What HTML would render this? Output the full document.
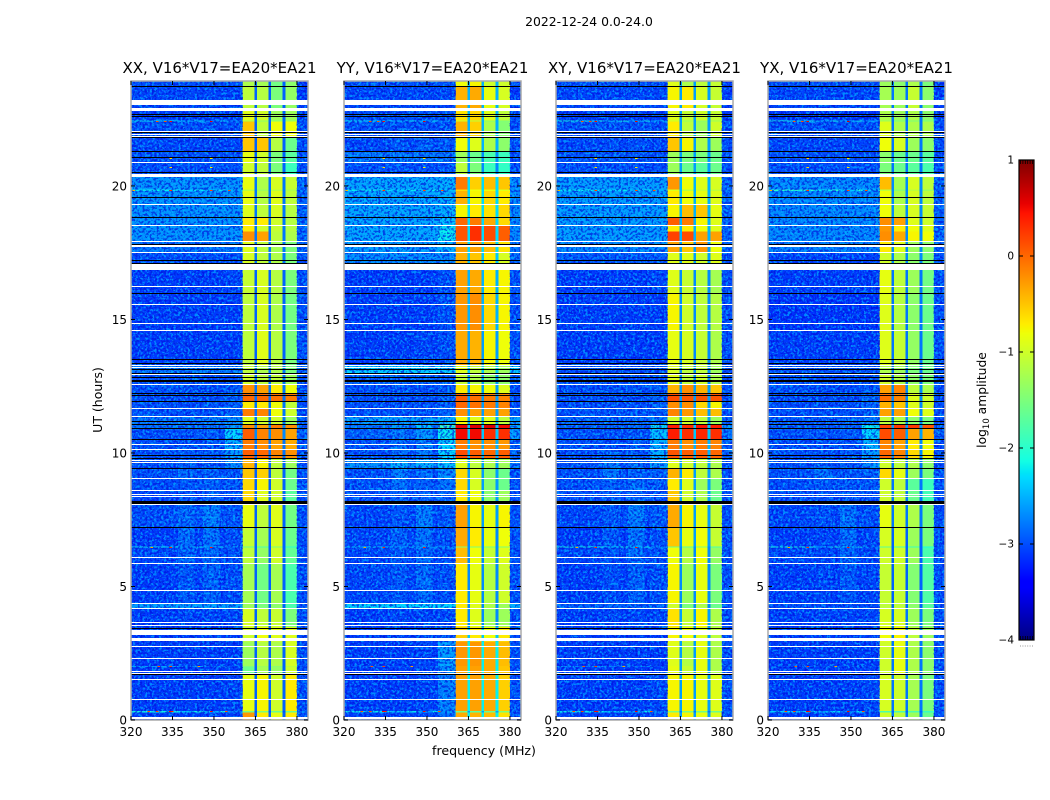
<!DOCTYPE html>
<html>
<head>
<meta charset="utf-8">
<title>Spectrogram 2022-12-24</title>
<style>
html,body{margin:0;padding:0;background:#fff;width:1050px;height:800px;overflow:hidden}
svg{display:block}
text{font-family:"DejaVu Sans","Liberation Sans",sans-serif;fill:#000}
</style>
</head>
<body>
<svg id="chart" xmlns="http://www.w3.org/2000/svg" width="1050" height="800" viewBox="0 0 1050 800">
<defs>
<filter id="grainLight" x="0" y="0" width="100%" height="100%" color-interpolation-filters="sRGB">
<feTurbulence type="fractalNoise" baseFrequency="0.42" numOctaves="2" seed="3"/>
<feColorMatrix type="matrix" values="0 0 0 0 0  0 0 0 0 0.72  0 0 0 0 1  7 0 0 0 -3.4"/>
</filter>
<filter id="grainDark" x="0" y="0" width="100%" height="100%" color-interpolation-filters="sRGB">
<feTurbulence type="fractalNoise" baseFrequency="0.42" numOctaves="2" seed="11"/>
<feColorMatrix type="matrix" values="0 0 0 0 0  0 0 0 0 0.05  0 0 0 0 0.85  7 0 0 0 -3.4"/>
</filter>
</defs>
<text x="589" y="26" text-anchor="middle" font-size="12.4">2022-12-24 0.0-24.0</text>
<text x="484" y="755" text-anchor="middle" font-size="12.6">frequency (MHz)</text>
<text transform="translate(102,400) rotate(-90)" text-anchor="middle" font-size="12.5">UT (hours)</text>
<text transform="translate(986,400) rotate(-90)" text-anchor="middle" font-size="12.3">log<tspan font-size="8.5" dy="3">10</tspan><tspan dy="-3"> amplitude</tspan></text>
</svg>
<script>
// Time band edges (UT hours), one data row between each consecutive pair
var timeEdges = [0,.30,.34,1.75,1.99,2.03,2.96,3.5,4.18,4.37,5.9,6.47,6.51,7.2,8.09,8.6,9.05,9.43,9.82,10.14,10.51,10.93,11.07,11.37,11.67,11.95,12.26,12.57,12.97,13.3,14.6,15.98,17.07,17.5,17.95,18.3,18.55,18.85,19.34,19.83,19.87,20.46,20.9,21.3,21.85,22.43,22.47,22.93,23.75,24];
// Frequency bin edges (MHz)
var freqEdges = [320,337,343,346,352,354,360.4,364.7,365.6,369.8,370.7,374.8,375.8,380,384];
// Which value column each frequency bin reads: a b a c a d A N B N C N D E
var binColumn = [0,1,0,2,0,3,4,8,5,8,6,8,7,9];
// Row values, log10 amplitude: [a,b,c,d, A,B,C,D, notch, edge]
var valuesXX = [
[-3.1,-3.1,-3.1,-3.05,-.25,-.7,-.85,-.7,-2.9,-3],
[-2.1,-2.3,-2.5,-2.7,-1.5,-1.5,-1.6,-1.6,-3,-2.9],
[-3.1,-3.1,-3.1,-3.05,-.85,-.75,-1,-.7,-2.9,-3],
[-3.1,-3.1,-3.1,-3.1,-1.6,-1.25,-1.35,-1,-2.9,-3],
[-2.6,-2.8,-2.9,-3,-1.5,-1.3,-1.4,-1.1,-2.9,-3],
[-3.1,-3.1,-3.1,-3.1,-1.3,-1.15,-1.2,-.95,-2.9,-3],
[-3.1,-3.1,-3.1,-3.1,-1,-.8,-.9,-.9,-2.9,-3],
[-3.1,-3.05,-3.05,-3.05,-.95,-1.1,-1.05,-1.5,-2.9,-3],
[-2.6,-2.6,-2.6,-2.6,-1.3,-1.5,-1.4,-1.8,-2.9,-3],
[-3.1,-2.95,-2.9,-3,-1.25,-1.55,-1.25,-1.8,-2.9,-3],
[-3.05,-2.9,-2.85,-3,-1.1,-1.35,-1,-1.65,-2.9,-3],
[-2.2,-2.6,-2.6,-2.7,-1.6,-1.8,-1.5,-2,-2.9,-3],
[-3.1,-2.85,-2.8,-3,-1.05,-1.25,-.95,-1.6,-2.9,-3],
[-3,-2.85,-2.75,-2.95,-.85,-1.1,-.9,-1.55,-2.9,-3],
[-3.05,-2.95,-2.9,-3,-.6,-.9,-1,-1.7,-2.9,-3],
[-3,-2.95,-2.9,-2.95,-.6,-.75,-1,-1.6,-2.9,-3],
[-3,-2.85,-2.9,-2.95,-.5,-.55,-1.1,-1.55,-2.9,-3],
[-3,-2.9,-2.95,-2.7,-.4,-.75,-1.1,-1.3,-2.9,-3],
[-3,-2.95,-2.95,-2.6,.05,0,-.15,-.2,-2.8,-3],
[-3,-3,-2.95,-2.5,-.1,-.2,-.3,-.35,-2.8,-3],
[-3,-3,-2.95,-2.3,.05,-.15,-.2,-.3,-2.7,-2.9],
[-2.8,-2.8,-2.8,-2.6,-.2,-.3,-.1,-.2,-2.7,-2.9],
[-2.8,-2.8,-2.75,-2.7,-.9,-1,-1,-1.3,-2.8,-2.9],
[-3,-3,-3,-2.9,-.1,-.15,-.8,-1,-2.8,-3],
[-3,-3,-2.95,-2.9,-.7,-.7,-.8,-1.1,-2.8,-3],
[-3,-3,-3,-2.9,0,0,-.05,-.1,-2.8,-3],
[-3,-3,-3,-2.9,-.2,-.3,-.7,-.8,-2.8,-3],
[-3,-3,-3,-3,-1,-1.1,-1.1,-1.3,-2.8,-3],
[-2.8,-2.8,-2.8,-2.8,-1.1,-1.2,-1.2,-1.5,-2.8,-2.9],
[-3.1,-3.1,-3.1,-3.1,-1.1,-.9,-1.15,-1.5,-2.9,-3],
[-3.1,-3.1,-3.1,-3.1,-1.1,-.95,-1.2,-1.55,-2.9,-3],
[-3.1,-3.1,-3.1,-3.05,-1.05,-.95,-1.15,-1.5,-2.9,-3],
[-3,-3,-3,-3,-.95,-1.1,-1.2,-1.5,-2.8,-3],
[-2.8,-2.8,-2.8,-2.8,-.9,-1.1,-1.25,-1.5,-2.8,-2.9],
[-2.65,-2.65,-2.65,-2.65,-.2,-.3,-1.1,-1.2,-2.8,-2.9],
[-2.65,-2.65,-2.65,-2.65,-.7,-1,-1.05,-1.15,-2.8,-2.9],
[-2.65,-2.65,-2.65,-2.65,-.7,-.7,-1,-1.15,-2.8,-2.9],
[-2.65,-2.65,-2.65,-2.65,-.9,-1.1,-.95,-1.15,-2.8,-2.9],
[-2.65,-2.65,-2.65,-2.65,-.85,-1.15,-.9,-1.1,-2.8,-2.9],
[-2.2,-2.3,-2.4,-2.5,-1.1,-1.3,-1.1,-1.2,-2.8,-2.9],
[-2.65,-2.65,-2.65,-2.65,-.85,-1.2,-.95,-1.05,-2.8,-2.9],
[-3,-3,-3,-3,-1,-1.1,-1.5,-1.9,-2.9,-3],
[-3,-3,-3,-3,-.85,-1,-1.5,-1.7,-2.9,-3],
[-3.05,-3.05,-3.05,-3.05,-.5,-.5,-1.15,-1.6,-2.9,-3],
[-3,-3,-3,-3,-.5,-1.1,-.8,-.8,-2.9,-3],
[-2.2,-2.4,-2.5,-2.6,-1.2,-1.4,-1.4,-1.3,-2.8,-2.9],
[-3.1,-3.1,-3.1,-3.1,-.9,-1,-1.3,-1.3,-2.9,-3.1],
[-3.05,-3.05,-3.05,-3.05,-1.1,-1.15,-1.5,-1.35,-2.9,-3.1],
[-3,-3,-3,-3,-1.2,-1.25,-1.55,-1.4,-2.9,-3.1]
];
var valuesYY = [
[-3.1,-3.1,-3.05,-2.8,-.35,-.4,-.45,-.65,-2.2,-3],
[-2.2,-2.4,-2.6,-2.7,-1.6,-1.7,-1.6,-1.5,-2.6,-2.9],
[-3.1,-3.1,-3.05,-2.75,-.3,-.3,-.35,-.55,-2.2,-3],
[-3.1,-3.1,-3.05,-2.7,-.3,-.3,-.35,-.5,-2.2,-3],
[-2.9,-3,-3,-2.7,-.3,-.3,-.35,-.5,-2.2,-3],
[-3.1,-3.1,-3.05,-2.6,-.25,-.25,-.35,-.45,-2.2,-3],
[-3.1,-3.1,-3.05,-3,-.55,-.7,-.8,-.7,-2.4,-3],
[-3.1,-3.05,-3.05,-3.05,-.7,-.9,-1.3,-1.3,-2.7,-3],
[-2.3,-2.3,-2.3,-2.3,-.7,-.9,-1.2,-1.3,-2.7,-2.5],
[-3.05,-2.95,-2.85,-3,-.7,-.85,-1.15,-1,-2.7,-3],
[-3.05,-2.95,-2.85,-3,-.45,-.8,-1.05,-.9,-2.7,-3],
[-2.4,-2.6,-2.6,-2.7,-1.4,-1.5,-1.5,-1.5,-2.7,-2.9],
[-3.05,-2.9,-2.8,-3,-.35,-.7,-.85,-.8,-2.7,-3],
[-3.05,-2.95,-2.75,-2.95,-.3,-.75,-.85,-.75,-2.6,-3],
[-3,-2.9,-2.9,-2.9,-.7,-.8,-1.4,-1.3,-2.6,-3],
[-3,-2.8,-2.9,-2.8,-.6,-.95,-1.4,-1.6,-2.6,-3],
[-3,-2.75,-2.85,-2.7,-.6,-.95,-1.4,-1.6,-2.6,-3],
[-2.7,-2.5,-2.5,-2.4,-.9,-1.1,-1.2,-1.3,-2.6,-2.8],
[-3,-2.85,-2.75,-2.3,.15,.05,0,.05,-2.5,-2.9],
[-3,-2.85,-2.75,-2.3,-.1,-.2,-.2,-.25,-2.5,-2.9],
[-2.9,-2.8,-2.6,-2.2,.5,.5,.3,.3,-2.4,-2.6],
[-2.8,-2.6,-2.4,-1.9,.55,.6,.6,.5,-2.4,-2.5],
[-2.6,-2.6,-2.6,-2.5,-.75,-.9,-.9,-1.1,-2.5,-2.6],
[-3,-3,-3,-2.9,-.2,-.3,-.3,-.3,-2.6,-3],
[-3,-3,-3,-2.9,0,-.05,-.1,-.15,-2.6,-3],
[-3,-3,-3,-2.9,.05,-.05,-.1,-.15,-2.6,-3],
[-3,-3,-3,-2.9,-.7,-.75,-.8,-.9,-2.6,-3],
[-2.9,-2.9,-2.9,-2.9,-1.05,-1.2,-1.4,-1.4,-2.6,-2.9],
[-2.35,-2.35,-2.35,-2.35,-.9,-1.1,-1.2,-1.3,-2.4,-2.4],
[-3.1,-3.1,-3.05,-3,-.35,-.4,-.75,-.8,-2.6,-3],
[-3.1,-3.1,-3.1,-3,-.25,-.2,-.6,-.75,-2.5,-3],
[-3.1,-3.1,-3.1,-3,-.3,-.35,-.7,-.75,-2.5,-3],
[-2.7,-2.7,-2.7,-2.7,-.4,-.5,-.7,-.95,-2.4,-2.8],
[-2.6,-2.6,-2.6,-2.5,-.3,-.3,-.45,-.65,-2.3,-2.8],
[-2.55,-2.55,-2.55,-2.2,.1,.3,.15,.05,-2.3,-2.7],
[-2.55,-2.55,-2.55,-2.2,.1,.3,.15,.05,-2.3,-2.7],
[-2.55,-2.55,-2.55,-2.4,0,-.1,-.35,-.6,-2.3,-2.7],
[-2.55,-2.55,-2.55,-2.5,-.75,-.7,-.65,-.6,-2.3,-2.7],
[-2.55,-2.55,-2.55,-2.5,-.4,-.75,-.6,-.7,-2.3,-2.7],
[-2.2,-2.3,-2.4,-2.4,-.6,-.8,-.8,-.9,-2.3,-2.7],
[-2.55,-2.55,-2.55,-2.5,-.1,-.55,-.45,-.5,-2.3,-2.7],
[-3,-3,-3,-3,-1.1,-1.5,-1.9,-1.95,-2.7,-3],
[-2.8,-2.8,-2.8,-2.8,-1.3,-1.6,-1.8,-1.9,-2.7,-3],
[-3.05,-2.95,-2.9,-2.95,-.8,-.9,-1.2,-1.4,-2.5,-3],
[-3,-3,-3,-3,-.4,-.55,-1.2,-1.45,-2.5,-3],
[-2.2,-2.4,-2.5,-2.6,-1,-1.1,-1.4,-1.5,-2.5,-2.9],
[-3,-3,-3,-3,-.65,-.6,-.9,-1.1,-2.5,-3],
[-3.05,-3.05,-3.05,-3.05,-.4,-.35,-.85,-.95,-2.5,-3.1],
[-3,-3,-3,-3,-.8,-.75,-1,-1,-2.5,-3]
];
var valuesXY = [
[-3.1,-3.1,-3.1,-3.05,-.7,-.75,-.85,-.9,-2.6,-3],
[-2.2,-2.4,-2.6,-2.8,-1.5,-1.5,-1.6,-1.6,-2.8,-2.9],
[-3.1,-3.1,-3.1,-3.05,-.75,-.75,-.85,-.9,-2.6,-3],
[-3.1,-3.1,-3.1,-3.1,-.85,-1.05,-.85,-1.2,-2.6,-3],
[-2.7,-2.8,-2.9,-3,-.85,-1.05,-.85,-1.2,-2.6,-3],
[-3.1,-3.1,-3.1,-3.1,-.9,-1.15,-.85,-1.2,-2.6,-3],
[-3.1,-3.1,-3.1,-3.1,-.75,-.8,-.9,-1.1,-2.6,-3],
[-3.1,-3.05,-3.05,-3.05,-.65,-1.05,-.75,-1.2,-2.6,-3],
[-2.9,-2.9,-2.9,-2.9,-1,-1.5,-1.2,-1.6,-2.7,-3],
[-3.1,-3,-2.9,-3,-.75,-1.3,-.85,-1.5,-2.7,-3],
[-3.05,-3,-2.85,-3,-.8,-1.15,-.8,-1.35,-2.7,-3],
[-2.1,-2.3,-2.4,-2.6,-1.6,-1.7,-1.5,-1.8,-2.7,-2.9],
[-3.1,-2.95,-2.8,-3,-.5,-.85,-.8,-1.05,-2.6,-3],
[-3.05,-2.95,-2.75,-2.95,-.35,-.75,-.85,-1.05,-2.6,-3],
[-3,-2.9,-2.9,-3,-.5,-1,-1.2,-1.6,-2.6,-3],
[-3,-2.9,-2.85,-2.95,-.7,-.9,-1.3,-1.5,-2.6,-3],
[-3,-2.8,-2.9,-2.9,-.4,-.7,-1.1,-1.2,-2.6,-3],
[-3,-2.75,-2.85,-2.6,-.9,-1,-1.1,-1.2,-2.6,-3],
[-3,-2.9,-2.95,-2.5,.1,.05,.05,0,-2.5,-2.9],
[-3,-3,-2.95,-2.5,-.1,-.2,-.1,-.15,-2.5,-2.9],
[-3,-3,-2.95,-2.4,.4,.3,.35,.3,-2.4,-2.8],
[-2.9,-2.9,-2.85,-2.2,.4,.3,.45,.4,-2.4,-2.7],
[-2.9,-2.9,-2.85,-2.8,-1,-1,-1.1,-1.3,-2.6,-2.9],
[-3,-3,-3,-2.9,-.15,-.25,-.45,-.45,-2.6,-3],
[-3,-3,-3,-2.9,-.2,-.2,-.6,-.75,-2.6,-3],
[-3,-3,-3,-2.9,.15,.1,.1,.1,-2.6,-3],
[-3,-3,-3,-2.95,-.4,-.2,-.4,-.5,-2.6,-3],
[-3,-3,-3,-3,-.9,-1.1,-1,-1.2,-2.7,-3],
[-3,-3,-3,-3,-.95,-1.1,-1.1,-1.3,-2.7,-3],
[-3.1,-3.1,-3.1,-3.1,-.85,-.95,-1.05,-1.2,-2.7,-3],
[-3.1,-3.1,-3.1,-3.1,-.75,-1,-1.1,-1.15,-2.7,-3],
[-3.1,-3.1,-3.1,-3.05,-.9,-1.05,-1.15,-1.25,-2.7,-3],
[-2.95,-2.95,-2.95,-2.95,-.9,-.9,-1,-.9,-2.6,-3],
[-2.7,-2.7,-2.7,-2.7,-.3,-.5,-.25,-.8,-2.6,-2.9],
[-2.6,-2.6,-2.6,-2.6,.2,.15,-.3,-.3,-2.5,-2.9],
[-2.6,-2.6,-2.6,-2.6,-.7,-.7,-.8,-.9,-2.5,-2.9],
[-2.6,-2.6,-2.6,-2.6,.05,-.1,-.75,-.9,-2.5,-2.9],
[-2.6,-2.6,-2.6,-2.6,-.75,-.45,-.5,-.85,-2.5,-2.9],
[-2.6,-2.6,-2.6,-2.6,-.7,-.8,-.85,-.9,-2.5,-2.9],
[-2.2,-2.3,-2.4,-2.5,-.9,-1.1,-1,-1.1,-2.5,-2.9],
[-2.6,-2.6,-2.6,-2.6,-.25,-.8,-.9,-.95,-2.5,-2.9],
[-3,-3,-3,-3,-1.3,-1.6,-1.7,-1.6,-2.6,-3],
[-2.95,-2.95,-2.95,-3,-1.3,-1.5,-1.5,-1.6,-2.6,-3],
[-3.05,-3,-3,-3.05,-.5,-.75,-1.2,-1.3,-2.6,-3],
[-3,-3,-3,-3,-.7,-1.1,-1.3,-1,-2.6,-3],
[-2.1,-2.3,-2.4,-2.5,-1,-1.3,-1.4,-1.3,-2.6,-2.9],
[-3.1,-3.1,-3.1,-3.1,-.9,-1.05,-1,-1.05,-2.6,-3.1],
[-3.05,-3.05,-3.05,-3.05,-.75,-.7,-.95,-1.05,-2.6,-3.1],
[-3,-3,-3,-3,-.9,-1.2,-1.1,-1.05,-2.6,-3.1]
];
var valuesYX = [
[-3.1,-3.1,-3.1,-3.05,-1,-1.1,-1.3,-1.6,-2.8,-3],
[-2.3,-2.5,-2.7,-2.9,-1.8,-1.8,-1.8,-1.9,-2.9,-3],
[-3.1,-3.1,-3.1,-3.05,-.95,-1,-1.25,-1.5,-2.8,-3],
[-3.1,-3.1,-3.1,-3.1,-1,-.85,-1.2,-1.4,-2.8,-3],
[-3,-3,-3,-3,-1,-.85,-1.2,-1.4,-2.8,-3],
[-3.1,-3.1,-3.1,-3.1,-1,-.85,-1.2,-1.4,-2.8,-3],
[-3.1,-3.1,-3.1,-3.1,-.8,-.75,-1.1,-1.3,-2.8,-3],
[-3.1,-3.05,-3.05,-3.05,-.95,-.95,-1.3,-1.5,-2.8,-3],
[-3,-3,-3,-3,-1.1,-1.1,-1.4,-1.7,-2.9,-3],
[-3.1,-3.05,-2.95,-3.05,-1.05,-1.05,-1.45,-1.75,-2.9,-3],
[-3.05,-3.05,-2.9,-3.05,-1,-1,-1.3,-1.8,-2.9,-3],
[-2.1,-2.5,-2.5,-2.8,-1.7,-1.8,-1.9,-2.1,-2.9,-3],
[-3.1,-3.05,-2.85,-3.05,-.95,-.95,-1.3,-1.5,-2.9,-3],
[-3.05,-3,-2.8,-3,-.85,-1,-1.2,-1.5,-2.8,-3],
[-3,-3,-2.95,-3,-1,-1.1,-1.6,-1.85,-2.8,-3],
[-3,-2.95,-2.95,-2.95,-1,-1.1,-1.7,-1.9,-2.8,-3],
[-3,-2.8,-2.95,-2.9,-.6,-.85,-1.3,-1.5,-2.8,-3],
[-3,-2.9,-2.95,-2.7,-1,-1.1,-1.2,-1.4,-2.8,-3],
[-3,-3,-2.95,-2.6,0,-.15,-.6,-.75,-2.7,-3],
[-3,-3,-3,-2.5,-.15,-.3,-.7,-.8,-2.7,-3],
[-3,-3,-2.95,-2.3,.15,.05,-.3,-.4,-2.6,-2.9],
[-2.9,-2.9,-2.85,-2.2,.2,.25,.25,.1,-2.6,-2.9],
[-2.95,-2.95,-2.9,-2.8,-1.1,-1.2,-1.4,-1.5,-2.7,-3],
[-3,-3,-3,-2.9,-.3,-.3,-.8,-.9,-2.7,-3],
[-3,-3,-3,-2.9,-.4,-.5,-.9,-1,-2.7,-3],
[-3,-3,-3,-2.9,-.05,-.15,-.9,-1,-2.7,-3],
[-3,-3,-3,-2.95,-.3,-.15,-1.1,-1.2,-2.7,-3],
[-3,-3,-3,-3,-1,-1.2,-1.4,-1.5,-2.8,-3],
[-3,-3,-3,-3,-1.2,-1.3,-1.5,-1.6,-2.8,-3],
[-3.1,-3.1,-3.1,-3.1,-.9,-1.05,-1.35,-1.6,-2.8,-3],
[-3.15,-3.15,-3.15,-3.15,-.9,-1.15,-1.4,-1.6,-2.8,-3],
[-3.1,-3.1,-3.1,-3.1,-.85,-1.1,-1.3,-1.55,-2.8,-3],
[-3.05,-3.05,-3.05,-3.05,-1,-1.2,-1.4,-1.5,-2.7,-3],
[-2.75,-2.75,-2.75,-2.75,-.7,-.9,-1.3,-1.4,-2.7,-2.9],
[-2.7,-2.7,-2.7,-2.7,-.2,-.35,-.75,-.8,-2.7,-2.9],
[-2.7,-2.7,-2.7,-2.7,-.25,-.7,-.8,-.9,-2.7,-2.9],
[-2.7,-2.7,-2.7,-2.7,-.2,-.3,-.9,-1,-2.7,-2.9],
[-2.7,-2.7,-2.7,-2.7,-.8,-1.1,-.95,-1.05,-2.7,-2.9],
[-2.7,-2.7,-2.7,-2.7,-.8,-1.2,-.95,-1.1,-2.7,-2.9],
[-2,-2.2,-2.3,-2.4,-1.1,-1.4,-1.1,-1.3,-2.7,-2.9],
[-2.7,-2.7,-2.7,-2.7,-.45,-1.25,-.95,-1.1,-2.7,-2.9],
[-3,-3,-3,-3,-1.5,-1.6,-1.7,-1.8,-2.8,-3],
[-3,-3,-3,-3,-1.4,-1.6,-1.6,-1.7,-2.8,-3],
[-3.05,-3.05,-3.05,-3.05,-.8,-.95,-1.3,-1.4,-2.8,-3],
[-3,-3,-3,-3,-.9,-1.2,-1.2,-1.2,-2.8,-3],
[-2.1,-2.3,-2.4,-2.5,-1.3,-1.5,-1.5,-1.5,-2.8,-3],
[-3.15,-3.15,-3.15,-3.15,-1.2,-1.3,-1.2,-1.4,-2.8,-3.1],
[-3.05,-3.05,-3.05,-3.05,-1.25,-1.3,-1.05,-1.4,-2.8,-3.1],
[-3,-3,-3,-3,-1.3,-1.4,-1.2,-1.5,-2.8,-3.1]
];
// Wide flagged (blank) time ranges in hours
var wideGapStart = [23.03,22.81,20.33,17.72,16.85,3.18,2.96];
var wideGapEnd   = [23.22,22.93,20.46,17.79,17.07,3.37,3.08];
// Single-integration flagged times (hours)
var thinGapHours = [22.07,21.96,21.88,20.89,19.34,18.55,17.95,17.52,16.24,15.57,14.86,14.60,13.30,13.21,12.97,12.57,11.67,11.37,10.33,10.14,9.74,9.67,9.05,8.60,8.48,8.40,8.08,6.09,5.87,4.86,4.37,4.18,3.66,3.56,2.76,2.31,1.85,1.75,1.52,.78,.12,.06];
// Wide dead-time ranges in hours
var wideDeadStart = [12.65,8.09];
var wideDeadEnd   = [12.75,8.19];
// Single-integration dead-time (black) lines, hours
var thinDeadHours = [23.75,22.70,22.62,22.03,21.84,21.31,21.07,20.51,19.58,18.85,17.82,17.22,17.10,15.98,13.51,13.37,13.14,13.00,12.86,12.26,12.17,11.95,11.20,11.07,10.93,10.51,9.93,9.82,9.43,7.22,3.43,1.74];
// Narrow-band interference spikes: hour, MHz, log10 amplitude
var spikeHour = [.32,.32,.32,.32,.32,.32,2.01,2.01,2.01,6.49,6.49,6.49,19.85,19.85,19.85,19.85,22.45,22.45,22.45,22.45,21.05,21.05,20.7,20.7];
var spikeFreq = [333.8,334.5,329,348.5,326,354,334,329.5,344,334,348.5,327,334,348.5,320.5,355,334,348.5,329,332,334,348.5,334,348.5];
var spikeValue = [.5,.4,.2,.5,.1,.1,.2,.1,-.3,.3,.4,-.3,.3,.2,-.4,.1,.5,.6,.1,.1,-.6,-.7,-.6,-.7];
// Panels
var panelTitles = ["XX, V16*V17=EA20*EA21","YY, V16*V17=EA20*EA21","XY, V16*V17=EA20*EA21","YX, V16*V17=EA20*EA21"];
var panelValues = [valuesXX,valuesYY,valuesXY,valuesYX];
var panelLeft = [131,344,556,768];
var xTicks = [320,335,350,365,380];
var yTicks = [0,5,10,15,20];
var cbarTicks = [1,0,-1,-2,-3,-4];
var cbarMinorCount = 6;

var NS = 'http://www.w3.org/2000/svg';
var svg = document.getElementById('chart');
var plotTop = 81, plotBottom = 720, plotWidth = 177;
var fMin = 320, fMax = 384, hMin = 0, hMax = 23.93;

// matplotlib "jet" segments
var jetR = [[0,0],[.35,0],[.66,1],[.89,1],[1,.5]];
var jetG = [[0,0],[.125,0],[.375,1],[.64,1],[.91,0],[1,0]];
var jetB = [[0,.5],[.11,1],[.34,1],[.65,0],[1,0]];

function xScale(f, left){ return left + (f - fMin) / (fMax - fMin) * plotWidth; }
function yScale(h){ return plotBottom - (h - hMin) / (hMax - hMin) * (plotBottom - plotTop); }
function segInterp(seg, t){
  for (var i = 1; i < seg.length; i++) {
    if (t <= seg[i][0]) {
      var a = seg[i - 1], b = seg[i];
      return a[1] + (b[1] - a[1]) * (t - a[0]) / (b[0] - a[0]);
    }
  }
  return seg[seg.length - 1][1];
}
function colorScale(v){
  var t = Math.max(0, Math.min(1, (v + 4) / 5));
  return 'rgb(' + Math.round(segInterp(jetR, t) * 255) + ',' + Math.round(segInterp(jetG, t) * 255) + ',' + Math.round(segInterp(jetB, t) * 255) + ')';
}
function add(parent, tag, attrs){
  var el = document.createElementNS(NS, tag);
  for (var k in attrs) el.setAttribute(k, attrs[k]);
  parent.appendChild(el);
  return el;
}

panelTitles.forEach(function(title, p){
  var left = panelLeft[p];
  var values = panelValues[p];
  var panel = add(svg, 'g', {});
  
  

  var clipId = 'clip' + p;
  var cp = add(panel, 'clipPath', {id: clipId});
  add(cp, 'rect', {x: left, y: plotTop, width: plotWidth, height: plotBottom - plotTop});

  var heat = add(panel, 'g', {'clip-path': 'url(#' + clipId + ')', 'shape-rendering': 'crispEdges'});
  
  

  values.forEach(function(row, r){
    var y1 = yScale(timeEdges[r + 1]), y0 = yScale(timeEdges[r]);
    binColumn.forEach(function(col, b){
      var x0 = xScale(freqEdges[b], left), x1 = xScale(freqEdges[b + 1], left);
      var cell = add(heat, 'rect', {x: x0.toFixed(2), y: y1.toFixed(2), width: (x1 - x0 + .3).toFixed(2), height: (y0 - y1 + .3).toFixed(2), fill: colorScale(row[col])});
      
      
    });
  });

  // grain texture over the background channels
  [[320, 360.4], [380, 384]].forEach(function(range){
    var gx = xScale(range[0], left), gw = xScale(range[1], left) - gx;
    var g1 = add(heat, 'rect', {x: gx, y: plotTop, width: gw, height: plotBottom - plotTop, filter: 'url(#grainLight)', opacity: .65});
    
    
    var g2 = add(heat, 'rect', {x: gx, y: plotTop, width: gw, height: plotBottom - plotTop, filter: 'url(#grainDark)', opacity: .65});
    
    
  });

  spikeHour.forEach(function(h, i){
    var s = add(heat, 'rect', {x: xScale(spikeFreq[i], left).toFixed(2), y: Math.round(yScale(h)), width: 2.5, height: 1, fill: colorScale(spikeValue[i])});
    
    
  });

  wideGapStart.forEach(function(h, i){
    var yTop = Math.round(yScale(wideGapEnd[i])), yBot = Math.round(yScale(h));
    var g = add(heat, 'rect', {x: left, y: yTop, width: plotWidth, height: yBot - yTop, fill: '#fff'});
    
    
  });
  thinGapHours.forEach(function(h){
    var g = add(heat, 'rect', {x: left, y: Math.round(yScale(h)), width: plotWidth, height: 1, fill: '#fff'});
    
    
  });
  wideDeadStart.forEach(function(h, i){
    var yTop = Math.round(yScale(wideDeadEnd[i])), yBot = Math.round(yScale(h));
    var g = add(heat, 'rect', {x: left, y: yTop, width: plotWidth, height: yBot - yTop, fill: '#000'});
    
    
  });
  thinDeadHours.forEach(function(h){
    var g = add(heat, 'rect', {x: left, y: Math.round(yScale(h)), width: plotWidth, height: 1, fill: '#000'});
    
    
  });

  var frame = add(panel, 'rect', {x: left, y: plotTop, width: plotWidth, height: plotBottom - plotTop, fill: 'none', stroke: '#aaaaaa', 'stroke-width': 1.5});
  
  

  var t = add(panel, 'text', {x: left + plotWidth / 2, y: 73, 'text-anchor': 'middle', 'font-size': 15});
  t.textContent = title;
  
  

  xTicks.forEach(function(f){
    var x = xScale(f, left);
    var l1 = add(panel, 'line', {x1: x, x2: x, y1: plotBottom, y2: plotBottom - 4, stroke: '#000'});
    
    
    var l2 = add(panel, 'line', {x1: x, x2: x, y1: plotTop, y2: plotTop + 4, stroke: '#000'});
    
    
    var lab = add(panel, 'text', {x: x, y: 736, 'text-anchor': 'middle', 'font-size': 12});
    lab.textContent = f;
    
    
  });
  yTicks.forEach(function(h){
    var y = yScale(h);
    var l1 = add(panel, 'line', {x1: left, x2: left + 4, y1: y, y2: y, stroke: '#000'});
    
    
    var l2 = add(panel, 'line', {x1: left + plotWidth, x2: left + plotWidth - 4, y1: y, y2: y, stroke: '#000'});
    
    
    var lab = add(panel, 'text', {x: left - 4, y: y + 4.5, 'text-anchor': 'end', 'font-size': 12});
    lab.textContent = h;
    
    
  });
});

// Colorbar
var cbX = 1019, cbW = 15, cbTop = 160, cbBottom = 640;
function cbScale(v){ return cbBottom - (v + 4) / 5 * (cbBottom - cbTop); }
var cb = add(svg, 'g', {});


var cbSteps = 240;
var cbRamp = add(cb, 'g', {'shape-rendering': 'crispEdges'});


for (var i = 0; i < cbSteps; i++) {
  var v0 = -4 + 5 * i / cbSteps, v1 = -4 + 5 * (i + 1) / cbSteps;
  var seg = add(cbRamp, 'rect', {x: cbX, y: cbScale(v1), width: cbW, height: cbScale(v0) - cbScale(v1) + .5, fill: colorScale((v0 + v1) / 2)});
  
  
}
var cbFrame = add(cb, 'rect', {x: cbX, y: cbTop, width: cbW, height: cbBottom - cbTop, fill: 'none', stroke: '#000', 'stroke-width': 1.2});


cbarTicks.forEach(function(v){
  var y = cbScale(v);
  var l1 = add(cb, 'line', {x1: cbX, x2: cbX + 4, y1: y, y2: y, stroke: '#000'});
  
  
  var l2 = add(cb, 'line', {x1: cbX + cbW, x2: cbX + cbW - 4, y1: y, y2: y, stroke: '#000'});
  
  
  var lab = add(cb, 'text', {x: cbX - 5, y: y + 3.5, 'text-anchor': 'end', 'font-size': 10.5});
  lab.textContent = v < 0 ? '\u2212' + (-v) : String(v);
  
  
});
for (var m = 0; m < cbarMinorCount; m++) {
  var minorX = cbX + 1.5 + m * 2.4;
  var minorTop = add(cb, 'line', {x1: minorX, x2: minorX, y1: cbTop, y2: cbTop + 4, stroke: '#000', 'stroke-width': .8});
  
  
  var minorBottom = add(cb, 'line', {x1: minorX, x2: minorX, y1: cbBottom, y2: cbBottom - 4, stroke: '#000', 'stroke-width': .8});
  
  
  var minorDot = add(cb, 'rect', {x: minorX - .5, y: 645.5, width: 1, height: 1, fill: '#999'});
  
  
}
</script>
</body>
</html>
